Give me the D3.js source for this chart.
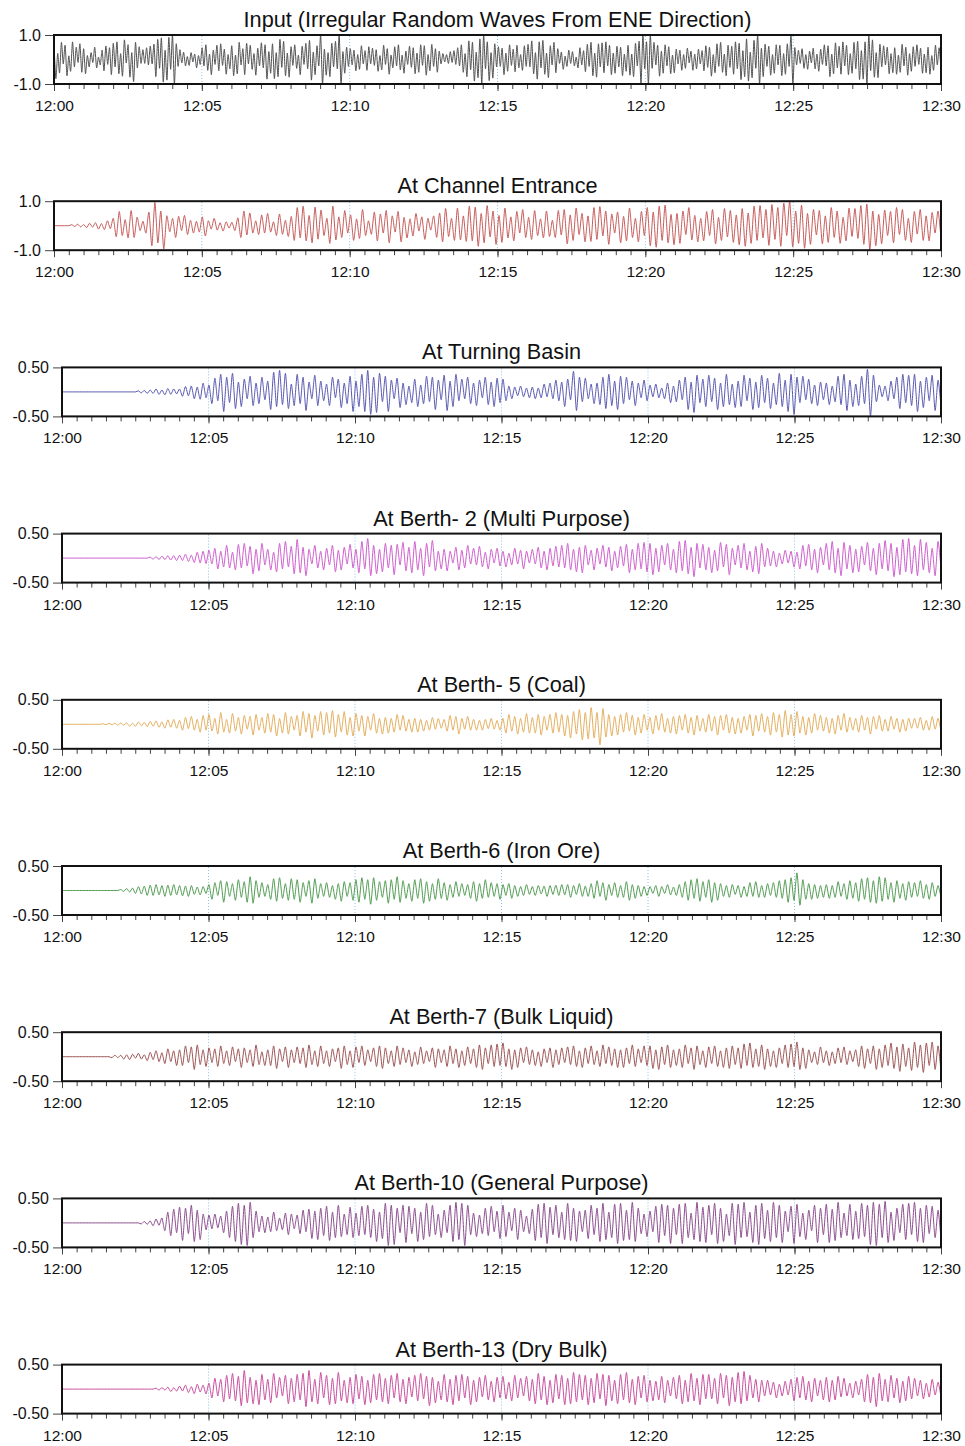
<!DOCTYPE html>
<html>
<head>
<meta charset="utf-8">
<script src="https://cdnjs.cloudflare.com/ajax/libs/d3/7.8.5/d3.min.js"></script>
<style>
  body { margin: 0; background: #fff; }
  svg { display: block; font-family: "Liberation Sans", Arial, sans-serif; }
</style>
</head>
<body>
<svg id="chart" width="965" height="1446"></svg>
<script>
// surface elevation in cm, one value per crest / trough, evenly spaced 12:00 -> 12:30
// (input: 16 per minute, the others: 10 per minute)
const inputWave = [
  62,-78,25,-55,70,-18,58,-66,15,-48,72,-30,50,-12,64,-52,
  44,-58,16,-30,28,-12,50,-34,10,-22,38,-46,55,-20,48,-62,
  66,-30,72,-58,24,-68,80,-14,60,-72,28,-90,70,-34,52,-16,
  40,-16,48,-22,55,-18,62,-70,82,-36,88,-92,38,-84,90,-40,
  100,-100,64,-28,40,-14,30,-26,12,-24,28,-10,22,-34,16,-20,
  48,-26,60,-44,22,-62,38,-20,58,-46,64,-24,42,-60,20,-38,
  56,-66,18,-58,70,-22,44,-62,66,-18,58,-40,24,-64,46,-26,
  68,-34,60,-80,32,-56,64,-78,28,-70,82,-32,74,-66,26,-72,
  52,-24,60,-36,18,-62,54,-20,66,-38,78,-84,30,-62,56,-26,
  100,-100,42,-64,28,-70,66,-30,74,-38,100,-100,32,-56,50,-28,
  44,-22,38,-46,20,-40,56,-18,36,-44,52,-18,46,-24,40,-48,
  16,-42,58,-20,44,-60,18,-34,52,-26,60,-42,18,-56,34,-20,
  54,-32,48,-58,26,-52,60,-24,56,-64,20,-46,62,-28,44,-52,
  34,-18,24,-10,20,-16,32,-12,36,-20,48,-26,60,-52,24,-70,
  76,-42,70,-88,30,-74,84,-100,100,-38,72,-86,28,-76,64,-30,
  52,-28,46,-62,26,-48,60,-24,42,-50,58,-34,20,-44,56,-28,
  62,-30,76,-58,28,-80,72,-34,78,-60,26,-74,56,-22,70,-54,
  44,-16,30,-40,14,-28,38,-16,32,-26,10,-34,48,-22,36,-50,
  62,-28,70,-66,26,-72,64,-30,68,-54,72,-26,58,-62,26,-56,
  54,-30,50,-66,22,-48,58,-64,22,-70,66,-26,74,-100,100,-38,
  72,-100,100,-36,70,-22,58,-68,34,-56,60,-26,52,-58,18,-54,
  42,-18,38,-44,20,-36,46,-14,34,-44,22,-38,42,-18,36,-46,
  56,-32,50,-68,20,-54,64,-28,70,-52,22,-66,58,-32,54,-60,
  72,-38,66,-82,36,-70,84,-88,30,-74,78,-36,100,-100,46,-70,
  62,-28,54,-64,20,-56,60,-22,58,-66,24,-60,64,-28,100,-100,
  48,-22,38,-16,44,-36,20,-40,34,-14,46,-38,22,-48,42,-20,
  60,-26,56,-70,22,-58,68,-34,54,-60,72,-26,58,-62,24,-56,
  70,-38,74,-82,36,-80,72,-100,100,-46,80,-72,28,-74,62,-30,
  56,-22,50,-58,24,-54,48,-60,18,-52,62,-26,50,-64,24,-48,
  52,-28,60,-20,46,-56,22,-54,50,-60,16,-44,58,-22,48,-40
];

const channelEntrance = [
  0,0,0,0,0,0,4,-3,6,-5,
  5,-8,10,-6,12,-14,9,-16,20,-12,
  30,-45,58,-40,25,-50,62,-48,35,-20,
  18,-30,55,-82,95,-70,60,-95,40,-25,
  30,-48,38,-20,42,-36,22,-30,18,-26,
  36,-42,20,-14,30,-18,12,-22,16,-10,
  14,-20,32,-48,60,-38,52,-30,20,-36,
  44,-30,50,-26,16,-40,48,-35,22,-44,
  38,-60,74,-50,80,-62,42,-70,76,-55,
  64,-40,30,-72,80,-58,36,-48,62,-30,
  44,-60,28,-52,66,-40,20,-35,56,-62,
  48,-30,62,-70,40,-26,58,-66,34,-50,
  28,-42,50,-22,36,-56,30,-18,40,-48,
  52,-66,70,-44,30,-60,72,-58,40,-64,
  80,-62,76,-84,50,-70,82,-46,60,-76,
  42,-68,72,-50,36,-62,58,-30,66,-48,
  34,-56,62,-40,28,-50,60,-44,22,-48,
  62,-38,66,-74,44,-60,72,-36,50,-66,
  40,-64,74,-56,78,-42,60,-76,48,-30,
  56,-70,38,-62,72,-48,30,-66,58,-40,
  74,-82,56,-88,80,-60,84,-70,46,-78,
  50,-72,60,-36,74,-58,42,-66,30,-62,
  58,-40,66,-74,34,-60,70,-46,62,-68,
  44,-78,70,-84,52,-72,80,-60,82,-50,
  66,-80,86,-56,74,-84,92,-40,100,-86,
  60,-72,84,-92,50,-76,66,-38,62,-74,
  40,-68,74,-48,60,-72,34,-62,72,-44,
  70,-52,82,-76,88,-98,60,-82,46,-74,
  64,-40,58,-70,74,-36,66,-60,30,-68,
  58,-34,66,-60,40,-62,54,-30,60,-52
];

const turningBasin = [
  0,0,0,0,0,0,0,0,0,0,
  0,0,0,0,0,0,0,0,0,0,
  0,0,0,0,0,0,2,-2,3,-3,
  4,-3,6,-5,4,-6,7,-5,6,-4,
  6,-9,11,-8,12,-14,10,-15,18,-12,
  14,-24,28,-18,36,-40,30,-22,38,-34,
  20,-30,26,-14,32,-28,18,-24,30,-16,
  22,-36,40,-30,44,-26,38,-34,16,-28,
  36,-24,30,-38,20,-14,34,-28,22,-18,
  16,-28,30,-12,26,-32,18,-24,32,-40,
  22,-30,36,-40,44,-46,30,-42,38,-20,
  32,-40,24,-14,28,-32,18,-26,12,-22,
  26,-30,14,-24,32,-20,30,-36,24,-16,
  34,-38,22,-30,36,-18,26,-14,30,-24,
  18,-28,24,-12,30,-26,20,-30,28,-22,
  26,-18,12,-14,10,-8,12,-10,8,-12,
  10,-14,8,-12,16,-10,18,-14,24,-18,
  20,-30,26,-16,42,-38,30,-20,28,-14,
  16,-24,18,-26,30,-34,36,-28,22,-36,
  32,-24,30,-16,22,-28,18,-12,24,-18,
  14,-10,16,-12,8,-14,18,-22,12,-20,
  24,-16,30,-36,20,-42,34,-22,26,-30,
  34,-20,28,-36,18,-30,36,-26,16,-32,
  22,-30,34,-18,28,-36,20,-32,34,-22,
  28,-34,18,-26,38,-30,24,-40,36,-46,
  30,-22,32,-16,26,-24,14,-28,20,-16,
  18,-26,12,-20,32,-26,36,-38,24,-30,
  16,-28,32,-24,46,-50,34,-20,14,-10,
  12,-18,22,-14,30,-34,36,-22,34,-28,
  36,-40,22,-32,30,-18,34,-38,24,-30
];

const berth2 = [
  0,0,0,0,0,0,0,0,0,0,
  0,0,0,0,0,0,0,0,0,0,
  0,0,0,0,0,0,0,0,0,0,
  2,-2,3,-3,4,-3,5,-4,5,-5,
  6,-5,8,-7,6,-9,12,-10,14,-11,
  16,-12,20,-22,14,-18,26,-20,12,-24,
  28,-20,30,-16,24,-32,18,-26,30,-14,
  18,-24,12,-28,30,-22,34,-18,24,-32,
  38,-30,22,-36,18,-12,26,-20,14,-24,
  20,-14,26,-28,16,-24,22,-12,28,-20,
  18,-30,34,-22,40,-36,26,-32,18,-28,
  30,-20,26,-34,28,-14,32,-26,22,-30,
  34,-24,20,-36,30,-18,36,-26,14,-22,
  18,-26,14,-10,22,-24,16,-20,26,-12,
  20,-14,24,-18,12,-22,18,-10,20,-16,
  14,-18,10,-14,20,-12,16,-22,14,-10,
  18,-12,22,-20,14,-24,20,-16,24,-18,
  26,-20,30,-24,18,-28,22,-30,26,-14,
  16,-24,20,-12,26,-18,22,-26,14,-20,
  24,-16,28,-30,18,-24,30,-22,32,-28,
  30,-34,20,-28,26,-14,30,-24,18,-30,
  34,-26,36,-32,22,-38,30,-20,28,-24,
  22,-30,16,-26,32,-18,28,-34,20,-14,
  26,-20,30,-24,14,-28,24,-32,30,-18,
  20,-16,14,-18,10,-12,16,-10,14,-18,
  12,-22,26,-16,28,-24,18,-30,22,-14,
  30,-24,34,-30,20,-36,32,-22,26,-30,
  18,-28,24,-14,32,-26,20,-34,30,-22,
  36,-26,30,-38,22,-34,38,-28,40,-32,
  26,-36,38,-24,32,-30,20,-36,34,-22
];

const berth5 = [
  0,0,0,0,0,0,0,0,0,0,
  0,0,0,0,1,-1,2,-1,2,-2,
  3,-2,3,-4,2,-4,5,-3,4,-5,
  6,-4,7,-6,5,-8,9,-6,10,-8,
  8,-12,14,-9,16,-12,10,-16,18,-12,
  20,-14,12,-20,24,-16,10,-18,22,-14,
  14,-20,18,-10,16,-22,20,-12,14,-18,
  22,-16,20,-24,12,-18,24,-20,16,-12,
  18,-24,26,-16,22,-28,18,-14,26,-22,
  24,-18,28,-26,20,-16,26,-22,14,-24,
  22,-14,18,-24,16,-12,22,-18,12,-20,
  14,-18,12,-16,20,-12,18,-14,10,-16,
  12,-16,10,-14,8,-12,14,-10,12,-8,
  10,-14,18,-12,16,-20,12,-10,16,-12,
  10,-12,8,-12,10,-9,12,-10,8,-12,
  12,-18,20,-14,16,-20,12,-16,22,-18,
  14,-18,20,-22,16,-12,20,-18,24,-16,
  20,-24,18,-28,26,-20,30,-32,24,-30,
  34,-28,24,-42,32,-26,20,-24,16,-22,
  20,-16,24,-14,18,-22,14,-18,20,-12,
  14,-20,18,-12,22,-16,12,-18,16,-20,
  18,-12,20,-18,14,-22,18,-14,12,-16,
  20,-14,16,-22,18,-12,20,-18,14,-20,
  12,-18,16,-12,20,-24,18,-14,22,-16,
  16,-22,24,-16,20,-26,28,-22,20,-24,
  26,-18,16,-22,14,-18,22,-12,18,-14,
  14,-18,12,-20,18,-12,22,-16,14,-12,
  12,-16,18,-12,14,-20,16,-10,18,-14,
  10,-14,16,-10,12,-16,10,-14,12,-8,
  12,-8,14,-12,8,-12,16,-10,12,-14
];

const berth6 = [
  0,0,0,0,0,0,0,0,0,0,
  0,0,0,0,0,0,0,0,0,0,
  2,-2,4,-3,5,-6,8,-7,9,-10,
  11,-10,12,-9,10,-12,11,-10,12,-9,
  10,-11,9,-12,10,-8,7,-9,8,-6,
  12,-18,16,-10,20,-24,18,-12,14,-20,
  22,-14,18,-24,28,-26,20,-14,16,-12,
  12,-18,24,-22,26,-16,14,-20,24,-18,
  22,-24,16,-12,20,-26,24,-16,14,-12,
  16,-14,10,-18,14,-22,18,-12,16,-20,
  22,-24,26,-18,22,-28,26,-20,18,-14,
  20,-26,22,-18,28,-24,20,-16,14,-22,
  22,-16,24,-26,18,-22,14,-18,24,-16,
  16,-20,12,-14,18,-12,14,-10,12,-16,
  18,-22,14,-16,22,-14,16,-12,14,-18,
  12,-10,14,-16,10,-12,8,-10,12,-8,
  8,-10,10,-7,9,-12,10,-8,11,-10,
  12,-9,12,-14,10,-8,14,-12,9,-12,
  14,-16,20,-12,16,-20,12,-10,16,-14,
  10,-14,18,-20,12,-16,10,-12,8,-10,
  8,-6,10,-12,8,-6,12,-9,7,-10,
  12,-14,18,-20,22,-16,24,-22,18,-14,
  22,-24,16,-20,14,-12,10,-14,12,-8,
  10,-14,8,-12,16,-12,18,-14,10,-14,
  14,-10,16,-14,20,-16,22,-24,26,-20,
  36,-30,22,-18,14,-18,12,-16,10,-14,
  12,-16,10,-14,18,-12,14,-18,20,-16,
  16,-22,24,-18,26,-24,20,-26,28,-22,
  26,-18,16,-24,20,-16,14,-20,18,-14,
  16,-12,20,-16,12,-18,16,-12,10,-14
];

const berth7 = [
  0,0,0,0,0,0,0,0,0,0,
  0,0,0,0,0,0,0,-2,3,-2,
  3,-5,4,-6,5,-3,7,-5,4,-8,
  9,-6,12,-10,8,-14,16,-10,12,-18,
  14,-18,22,-12,20,-26,24,-16,14,-20,
  18,-12,16,-20,22,-14,12,-18,20,-10,
  16,-22,18,-12,14,-20,24,-16,10,-18,
  14,-18,22,-24,16,-10,20,-22,14,-12,
  20,-14,18,-22,24,-16,12,-20,22,-14,
  12,-20,16,-10,18,-24,22,-16,12,-22,
  20,-12,22,-18,14,-10,18,-20,22,-24,
  18,-14,12,-20,22,-16,18,-12,14,-20,
  10,-16,20,-14,12,-10,18,-22,16,-12,
  14,-20,22,-14,16,-22,12,-18,20,-14,
  16,-22,24,-26,18,-14,24,-20,26,-18,
  28,-20,16,-26,14,-22,18,-12,20,-16,
  14,-18,10,-20,16,-12,18,-22,14,-16,
  18,-12,20,-16,22,-20,12,-22,18,-14,
  22,-16,12,-20,24,-14,20,-18,16,-22,
  14,-22,18,-14,24,-20,16,-12,22,-18,
  22,-24,14,-26,20,-16,24,-22,14,-18,
  16,-22,24,-14,18,-26,22,-16,12,-22,
  20,-14,22,-20,12,-22,18,-24,22,-16,
  18,-24,26,-18,28,-22,16,-20,24,-26,
  16,-20,12,-22,18,-14,24,-22,26,-20,
  30,-26,18,-24,14,-12,10,-16,20,-12,
  12,-18,10,-14,18,-12,20,-16,12,-10,
  14,-20,22,-24,16,-14,22,-26,16,-22,
  24,-18,28,-24,20,-30,26,-20,18,-28,
  30,-22,24,-32,28,-18,30,-26,22,-30
];

const berth10 = [
  0,0,0,0,0,0,0,0,0,0,
  0,0,0,0,0,0,0,0,0,0,
  0,0,0,0,0,0,0,-2,3,-3,
  4,-6,8,-5,10,-16,22,-26,28,-20,
  32,-36,30,-22,36,-38,26,-34,18,-14,
  16,-12,18,-10,14,-20,24,-30,34,-38,
  40,-44,36,-46,42,-30,24,-18,14,-20,
  12,-18,22,-16,10,-14,20,-24,18,-12,
  16,-22,26,-18,28,-32,24,-34,30,-26,
  34,-36,22,-30,36,-28,18,-24,32,-30,
  20,-26,34,-24,36,-30,28,-38,22,-32,
  40,-46,36,-44,30,-20,36,-40,34,-22,
  30,-38,22,-34,40,-28,36,-24,18,-30,
  26,-20,36,-38,42,-34,40,-46,36,-24,
  20,-28,16,-22,30,-26,34,-18,24,-32,
  36,-28,22,-16,30,-34,26,-18,14,-22,
  28,-36,38,-30,40,-42,32,-24,36,-30,
  22,-34,40,-36,30,-38,24,-18,26,-32,
  36,-24,30,-38,40,-34,22,-30,38,-42,
  40,-36,26,-34,42,-38,30,-22,18,-28,
  24,-18,34,-40,38,-26,36,-42,30,-24,
  38,-42,40,-30,20,-34,42,-38,32,-40,
  36,-24,40,-42,30,-38,18,-26,40,-44,
  38,-30,42,-28,22,-40,36,-44,40,-32,
  26,-38,42,-30,36,-40,24,-18,34,-42,
  38,-28,20,-34,26,-16,36,-40,30,-24,
  38,-40,28,-36,42,-30,20,-26,38,-34,
  24,-32,40,-28,36,-44,42,-46,38,-30,
  44,-40,22,-36,30,-20,38,-34,40,-24,
  42,-38,30,-40,36,-22,34,-30,26,-34
];

const berth13 = [
  0,0,0,0,0,0,0,0,0,0,
  0,0,0,0,0,0,0,0,0,0,
  0,0,0,0,0,0,0,0,0,0,
  0,0,2,-2,3,-2,4,-5,3,-4,
  6,-4,8,-7,5,-9,10,-6,8,-10,
  12,-18,22,-14,20,-26,28,-20,32,-24,
  26,-34,38,-28,24,-30,18,-32,30,-22,
  20,-28,32,-18,24,-14,28,-30,22,-26,
  30,-22,32,-36,38,-26,20,-30,34,-18,
  28,-32,22,-30,34,-24,18,-28,24,-30,
  30,-20,26,-32,18,-28,30,-22,32,-26,
  22,-30,28,-18,32,-26,20,-30,24,-16,
  28,-24,32,-20,26,-34,24,-28,16,-22,
  30,-26,20,-32,28,-24,30,-18,26,-32,
  18,-26,24,-16,28,-22,16,-26,24,-18,
  26,-20,14,-24,28,-18,22,-14,26,-24,
  20,-30,32,-22,26,-32,18,-28,30,-20,
  28,-32,22,-30,34,-26,30,-22,28,-32,
  22,-28,32,-20,30,-34,28,-24,18,-30,
  30,-22,34,-28,20,-32,26,-18,28,-26,
  18,-24,16,-22,26,-28,18,-14,24,-20,
  28,-30,18,-26,32,-24,22,-32,30,-20,
  30,-20,22,-30,32,-18,28,-34,24,-26,
  34,-30,36,-24,28,-18,20,-26,18,-14,
  18,-12,14,-18,10,-14,16,-12,20,-24,
  24,-18,26,-22,16,-26,22,-14,18,-22,
  24,-26,18,-22,26,-16,22,-14,12,-18,
  16,-12,20,-26,30,-28,24,-36,32,-24,
  20,-26,28,-18,22,-28,16,-24,26,-20,
  22,-14,18,-20,12,-16,20,-12,14,-16
];

const panelTitles = [
  "Input (Irregular Random Waves From ENE Direction)",
  "At Channel Entrance",
  "At Turning Basin",
  "At Berth- 2 (Multi Purpose)",
  "At Berth- 5 (Coal)",
  "At Berth-6 (Iron Ore)",
  "At Berth-7 (Bulk Liquid)",
  "At Berth-10 (General Purpose)",
  "At Berth-13 (Dry Bulk)"
];
const xTickLabels = ["12:00", "12:05", "12:10", "12:15", "12:20", "12:25", "12:30"];
const yTicksInput = ["1.0", "-1.0"];
const yTicksBerth = ["0.50", "-0.50"];

const series = [inputWave, channelEntrance, turningBasin, berth2, berth5, berth6, berth7, berth10, berth13];
const lineColors = ["#505050", "#c45b59", "#5858b0", "#cc5ccc", "#e3ad5c", "#4f9b50", "#9c5252", "#8b4d8e", "#c64b9c"];

const svg = d3.select('#chart');
const parseTime = d3.timeParse('%H:%M');
const tickDates = xTickLabels.map(parseTime);
const tStart = tickDates[0];
const tEnd = tickDates[tickDates.length - 1];

const top0 = 35;
const step = 166.2;
const boxH = 49;
const right = 941;

series.forEach((data, k) => {
  const left = k < 2 ? 54 : 62;
  const yLabels = k < 2 ? yTicksInput : yTicksBerth;
  const g = svg.append('g').attr('transform', 'translate(0,' + (top0 + k * step) + ')');

  const x = d3.scaleTime().domain([tStart, tEnd]).range([left, right]);
  const ymax = +yLabels[0];
  const y = d3.scaleLinear().domain([-ymax, ymax]).range([boxH, 0]);
  const dt = (tEnd - tStart) / (data.length - 1);

  g.append('clipPath').attr('id', 'clip' + k)
    .append('rect')
    .attr('x', left).attr('y', 0)
    .attr('width', right - left).attr('height', boxH);

  // dotted grid at the 5 minute marks
  g.append('g').selectAll('line')
    .data(tickDates.slice(1, -1))
    .join('line')
    .attr('x1', d => x(d)).attr('x2', d => x(d))
    .attr('y1', 1).attr('y2', boxH - 1)
    .attr('stroke', '#8fc3e3')
    .attr('stroke-dasharray', '1,2');

  const line = d3.line()
    .x((d, i) => x(new Date(+tStart + i * dt)))
    .y(d => y(d / 100))   // cm -> m
    .curve(d3.curveCardinal.tension(0.3));

  g.append('path')
    .datum(data)
    .attr('clip-path', 'url(#clip' + k + ')')
    .attr('fill', 'none')
    .attr('stroke', lineColors[k])
    .attr('stroke-width', 1)
    .attr('d', line);

  // minor ticks every 30 s
  g.append('g')
    .attr('transform', 'translate(0,' + boxH + ')')
    .attr('color', '#444')
    .call(d3.axisBottom(x).ticks(d3.timeSecond.every(30)).tickSize(5).tickFormat(''))
    .call(a => a.select('.domain').remove());

  const xAxis = g.append('g')
    .attr('transform', 'translate(0,' + boxH + ')')
    .attr('color', '#444')
    .call(d3.axisBottom(x).tickValues(tickDates).tickSize(7).tickPadding(9)
      .tickFormat((d, i) => xTickLabels[i]));
  xAxis.select('.domain').remove();
  xAxis.selectAll('text')
    .attr('fill', '#111')
    .attr('font-size', 15.5)
    .attr('font-family', '"Liberation Sans", Arial, sans-serif');

  const yAxis = g.append('g')
    .attr('transform', 'translate(' + left + ',0)')
    .attr('color', '#444')
    .call(d3.axisLeft(y).tickValues(yLabels.map(Number)).tickSize(9).tickPadding(4)
      .tickFormat((d, i) => yLabels[i]));
  yAxis.select('.domain').remove();
  yAxis.selectAll('text')
    .attr('fill', '#111')
    .attr('font-size', 16)
    .attr('font-family', '"Liberation Sans", Arial, sans-serif');

  g.append('rect')
    .attr('x', left).attr('y', 0)
    .attr('width', right - left).attr('height', boxH)
    .attr('fill', 'none')
    .attr('stroke', '#111')
    .attr('stroke-width', 2);

  g.append('text')
    .attr('x', (left + right) / 2)
    .attr('y', -8)
    .attr('text-anchor', 'middle')
    .attr('font-size', 21.7)
    .attr('fill', '#111')
    .text(panelTitles[k]);
});
</script>
</body>
</html>
